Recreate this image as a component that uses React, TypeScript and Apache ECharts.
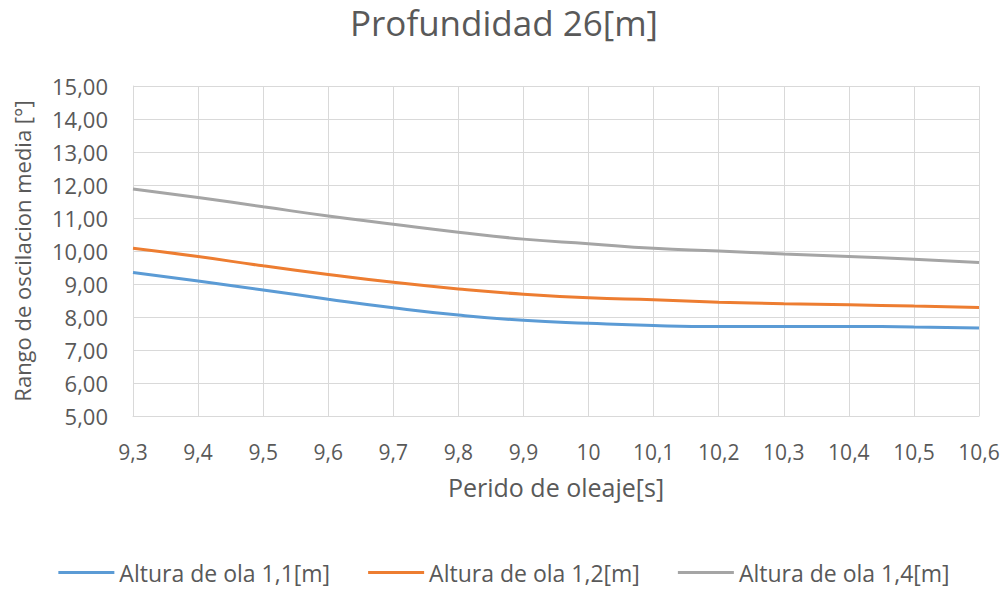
import React, { useEffect, useRef } from "react";
import * as echarts from "echarts";

const categories = ["9,3", "9,4", "9,5", "9,6", "9,7", "9,8", "9,9", "10", "10,1", "10,2", "10,3", "10,4", "10,5", "10,6"];
const ola11 = [9.35, 9.09, 8.82, 8.54, 8.28, 8.06, 7.9, 7.81, 7.74, 7.71, 7.71, 7.71, 7.7, 7.67];
const ola12 = [10.08, 9.83, 9.55, 9.29, 9.05, 8.85, 8.69, 8.58, 8.52, 8.45, 8.4, 8.37, 8.33, 8.29];
const ola14 = [11.88, 11.62, 11.34, 11.06, 10.81, 10.57, 10.36, 10.22, 10.08, 10.0, 9.91, 9.83, 9.75, 9.65];
const seriesNames = ["Altura de ola 1,1[m]", "Altura de ola 1,2[m]", "Altura de ola 1,4[m]"];
const colors = ["#5b9bd5", "#ed7d31", "#a5a5a5"];

const FONT = "'Open Sans', sans-serif";
const TEXT = "#595959";

export default function App() {
  const ref = useRef<HTMLDivElement>(null);
  useEffect(() => {
    document.body.style.margin = "0";
    const chart = echarts.init(ref.current!, undefined, { renderer: "svg" });
    const data = [ola11, ola12, ola14];
    chart.setOption({
      animation: false,
      backgroundColor: "#ffffff",
      textStyle: { fontFamily: FONT },
      title: {
        text: "Profundidad 26[m]",
        left: "center",
        top: 0,
        textStyle: { fontFamily: FONT, fontSize: 35, fontWeight: "normal", color: TEXT },
      },
      legend: {
        bottom: 1,
        left: "center",
        icon: "rect",
        itemWidth: 56,
        itemHeight: 3,
        itemGap: 38,
        textStyle: { fontFamily: FONT, fontSize: 23, color: TEXT, padding: [0, 0, 0, 0] },
        data: seriesNames,
      },
      grid: { left: 133, right: 29, top: 86, bottom: 174, containLabel: false },
      xAxis: {
        type: "category",
        data: categories,
        boundaryGap: false,
        name: "Perido de oleaje[s]",
        nameLocation: "middle",
        nameGap: 58,
        nameTextStyle: { fontFamily: FONT, fontSize: 25, color: TEXT },
        axisLine: { lineStyle: { color: "#d9d9d9", width: 1 } },
        axisTick: { show: false },
        axisLabel: { fontFamily: FONT, fontSize: 21, color: TEXT, margin: 25 },
        splitLine: { show: true, lineStyle: { color: "#d9d9d9", width: 1 } },
      },
      yAxis: {
        type: "value",
        min: 5,
        max: 15,
        interval: 1,
        name: "Rango de oscilacion media [°]",
        nameLocation: "middle",
        nameGap: 100,
        nameRotate: 90,
        nameTextStyle: { fontFamily: FONT, fontSize: 22, color: TEXT },
        axisLine: { show: true, lineStyle: { color: "#d9d9d9", width: 1 } },
        axisTick: { show: false },
        axisLabel: {
          fontFamily: FONT,
          fontSize: 22,
          color: TEXT,
          margin: 25,
          formatter: (v: number) => v.toFixed(2).replace(".", ","),
        },
        splitLine: { show: true, lineStyle: { color: "#d9d9d9", width: 1 } },
      },
      series: seriesNames.map((name, i) => ({
        name,
        type: "line",
        data: data[i],
        smooth: true,
        showSymbol: false,
        symbol: "none",
        lineStyle: { color: colors[i], width: 3 },
        itemStyle: { color: colors[i] },
      })),
    });
    return () => chart.dispose();
  }, []);
  return <div ref={ref} style={{ width: 1008, height: 590 }} />;
}
